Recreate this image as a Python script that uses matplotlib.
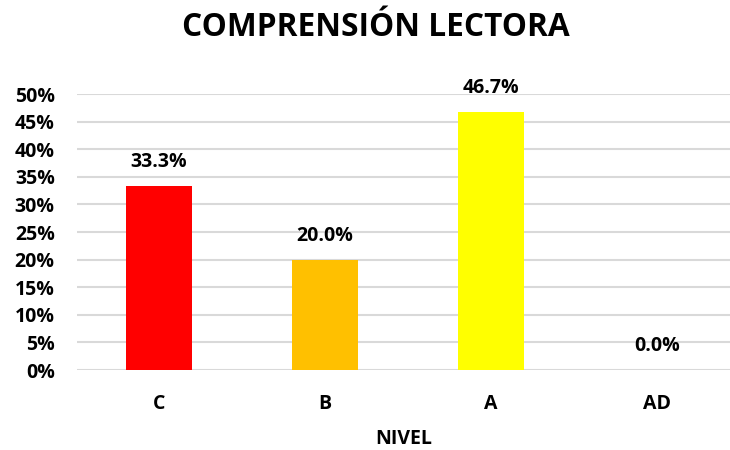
import matplotlib
matplotlib.use("Agg")
import matplotlib.pyplot as plt
from matplotlib.ticker import PercentFormatter

categories = ["C", "B", "A", "AD"]
values = [0.333, 0.200, 0.467, 0.0]
colors = ["#ff0000", "#ffc000", "#ffff00", "#5b9bd5"]
title = "COMPRENSIÓN LECTORA"
xlabel = "NIVEL"

plt.rcParams["font.family"] = ["Open Sans", "DejaVu Sans"]
plt.rcParams["font.weight"] = "bold"

fig = plt.figure(figsize=(7.3, 4.5), dpi=100)
ax = fig.add_axes([77 / 730, 80 / 450, 1 - 77 / 730, 276 / 450])

x = range(len(categories))
bars = ax.bar(x, values, width=0.40, color=colors, zorder=3)

for xi, v in zip(x, values):
    ax.annotate(f"{v * 100:.1f}%", (xi, v), xytext=(0, 10), textcoords="offset points",
                ha="center", va="bottom", fontsize=14, fontweight="bold")

ax.set_xlim(-82 / 166, 3 + 73 / 166)
ax.set_ylim(0, 0.5)
ax.set_yticks([i * 0.05 for i in range(11)])
ax.yaxis.set_major_formatter(PercentFormatter(1.0, decimals=0))
ax.set_xticks(list(x))
ax.set_xticklabels(categories)
ax.tick_params(axis="both", length=0, labelsize=14)
ax.tick_params(axis="x", pad=17)
ax.tick_params(axis="y", pad=16)
for lab in ax.get_yticklabels() + ax.get_xticklabels():
    lab.set_fontweight("bold")

ax.grid(axis="y", color="#d9d9d9", linewidth=1.5, zorder=0)
for s in ax.spines.values():
    s.set_visible(False)

ax.set_xlabel(xlabel, fontsize=14, fontweight="bold", labelpad=11)
fig.text(376 / 730, 1 - 28 / 450, title, ha="center", va="center", fontsize=22.8, fontweight="bold")

fig.savefig("out.png", dpi=100)
